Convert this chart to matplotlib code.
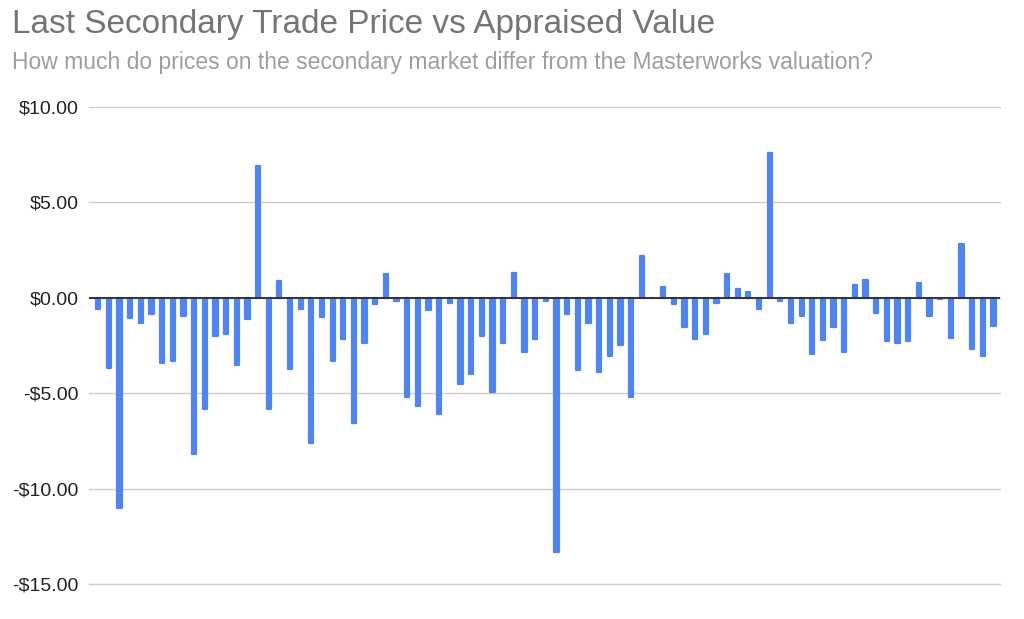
import numpy as np
import matplotlib
matplotlib.use("Agg")
import matplotlib.pyplot as plt
from matplotlib.ticker import FuncFormatter

plt.rcParams['font.family'] = ['Liberation Sans', 'DejaVu Sans']

# difference between last secondary trade price and appraised value, per offering
price_diff = [-0.6, -3.7, -11.0, -1.05, -1.3, -0.85, -3.4, -3.3, -0.95, -8.2,
              -5.85, -2.0, -1.9, -3.5, -1.1, 6.9, -5.85, 0.87, -3.75, -0.6,
              -7.6, -1.0, -3.3, -2.15, -6.55, -2.35, -0.3, 1.25, -0.15, -5.2,
              -5.65, -0.65, -6.1, -0.25, -4.5, -4.0, -2.0, -4.95, -2.35, 1.3,
              -2.85, -2.15, -0.15, -13.3, -0.85, -3.8, -1.3, -3.9, -3.05, -2.45,
              -5.2, 2.2, 0.0, 0.55, -0.3, -1.55, -2.15, -1.9, -0.25, 1.25,
              0.45, 0.3, -0.6, 7.6, -0.15, -1.3, -0.95, -2.95, -2.2, -1.55,
              -2.85, 0.7, 0.95, -0.8, -2.25, -2.35, -2.25, 0.8, -0.95, -0.05,
              -2.1, 2.8, -2.7, -3.05, -1.5]
offerings = np.arange(len(price_diff))
y_ticks = [-15, -10, -5, 0, 5, 10]

blue = '#5086ec'

fig = plt.figure(figsize=(10.24, 6.19), dpi=100)
ax = fig.add_axes([0.087, 0.0565, 0.89, 0.7705])

ax.bar(offerings, price_diff, width=0.4, color=blue, edgecolor=blue,
       linewidth=1.6, joinstyle='round', zorder=3)

ax.set_ylim(-15, 10)
ax.set_xlim(-0.85, len(price_diff) - 0.35)
ax.set_yticks(y_ticks)
ax.yaxis.set_major_formatter(FuncFormatter(lambda v, p: ('-$%.2f' % abs(v)) if v < 0 else '$%.2f' % v))
ax.set_xticks([])
ax.grid(axis='y', color='#cccccc', linewidth=1.0, zorder=0)
for gl in ax.get_ygridlines():
    gl.set_clip_on(False)
ax.axhline(0, color='#333333', linewidth=1.4, zorder=4)
ax.tick_params(axis='y', length=0, pad=7.5, labelsize=14, labelcolor='#222222')
for s in ax.spines.values():
    s.set_visible(False)

fig.text(0.012, 0.947, 'Last Secondary Trade Price vs Appraised Value',
         fontsize=24, color='#757575', ha='left', va='baseline')
fig.text(0.012, 0.888, 'How much do prices on the secondary market differ from the Masterworks valuation?',
         fontsize=16.5, color='#9e9e9e', ha='left', va='baseline')

fig.savefig('out.png', dpi=100, facecolor='white')
